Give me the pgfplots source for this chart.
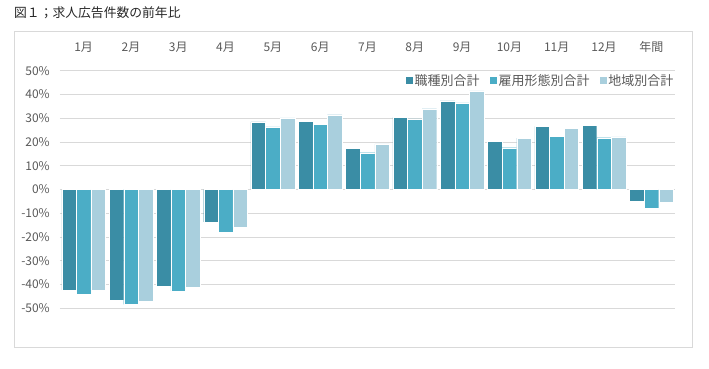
\documentclass[border=0pt]{standalone}
\usepackage{fontspec}
\setmainfont{Noto Sans CJK JP}
\usepackage{pgfplots}
\pgfplotsset{compat=1.18}
\definecolor{cA}{HTML}{3A8DA5}
\definecolor{cB}{HTML}{4BADC6}
\definecolor{cC}{HTML}{A9CFDD}
\definecolor{gridc}{HTML}{D9D9D9}
\definecolor{txt}{HTML}{595959}
\begin{document}
\begin{tikzpicture}
\begin{axis}[
  scale only axis,
  width=615bp, height=237.6bp,
  xmin=-0.5, xmax=12.5,
  ymin=-50, ymax=50,
  ytick={-50,-40,...,50},
  yticklabel={\pgfmathprintnumber{\tick}\%},
  /pgf/number format/assume math mode=true,
  xtick={0,...,12},
  xticklabels={1月,2月,3月,4月,5月,6月,7月,8月,9月,10月,11月,12月,年間},
  xticklabel pos=right,
  xticklabel style={anchor=base, yshift=18.7bp, font=\fontsize{12bp}{14bp}\selectfont, text=txt},
  yticklabel style={anchor=east, inner sep=0pt, xshift=-10bp, font=\fontsize{12bp}{14bp}\selectfont, text=txt},
  major tick length=0pt,
  axis line style={draw=none},
  ymajorgrids,
  major grid style={draw=gridc, line width=0.75bp},
  ybar=0pt,
  bar width=14.6bp,
  clip=false,
  legend style={draw=none, fill=none, at={(1,1)}, anchor=north east, yshift=-2bp,
    legend columns=-1, font=\fontsize{13bp}{15bp}\selectfont, text=txt,
    inner sep=0pt, nodes={inner sep=1.5bp},
    /tikz/every even column/.append style={column sep=8bp}},
  legend image code/.code={\fill[#1] (0bp,-3.5bp) rectangle (7.5bp,4bp);},
]
\addplot[fill=cA, draw=white, line width=0.3bp] coordinates {
(0,-42.2) (1,-46.6) (2,-40.6) (3,-13.6) (4,28.5) (5,28.8) (6,17.4) (7,30.4) (8,37.3) (9,20.2) (10,26.6) (11,27.1) (12,-4.8)};
\addplot[fill=cB, draw=white, line width=0.3bp] coordinates {
(0,-44.0) (1,-48.3) (2,-42.7) (3,-17.8) (4,26.4) (5,27.4) (6,15.5) (7,29.7) (8,36.5) (9,17.6) (10,22.4) (11,21.8) (12,-7.7)};
\addplot[fill=cC, draw=white, line width=0.3bp] coordinates {
(0,-42.3) (1,-46.9) (2,-41.3) (3,-15.9) (4,30.1) (5,31.5) (6,19.2) (7,34.0) (8,41.5) (9,21.6) (10,25.7) (11,22.2) (12,-5.2)};
\legend{職種別合計,雇用形態別合計,地域別合計}
\coordinate (ul) at (rel axis cs:0,1);
\end{axis}
\draw[draw=gridc, line width=0.9bp] ([xshift=-46bp,yshift=39.7bp]ul) rectangle ([xshift=632bp,yshift=-276.3bp]ul);
\node[anchor=west, inner sep=0pt, font=\fontsize{12.8bp}{15bp}\selectfont, text=black!85] at ([xshift=-46bp,yshift=57.7bp]ul) {図１；求人広告件数の前年比};
\useasboundingbox ([xshift=-60bp,yshift=70.7bp]ul) rectangle ([xshift=649bp,yshift=-298.3bp]ul);
\end{tikzpicture}
\end{document}
